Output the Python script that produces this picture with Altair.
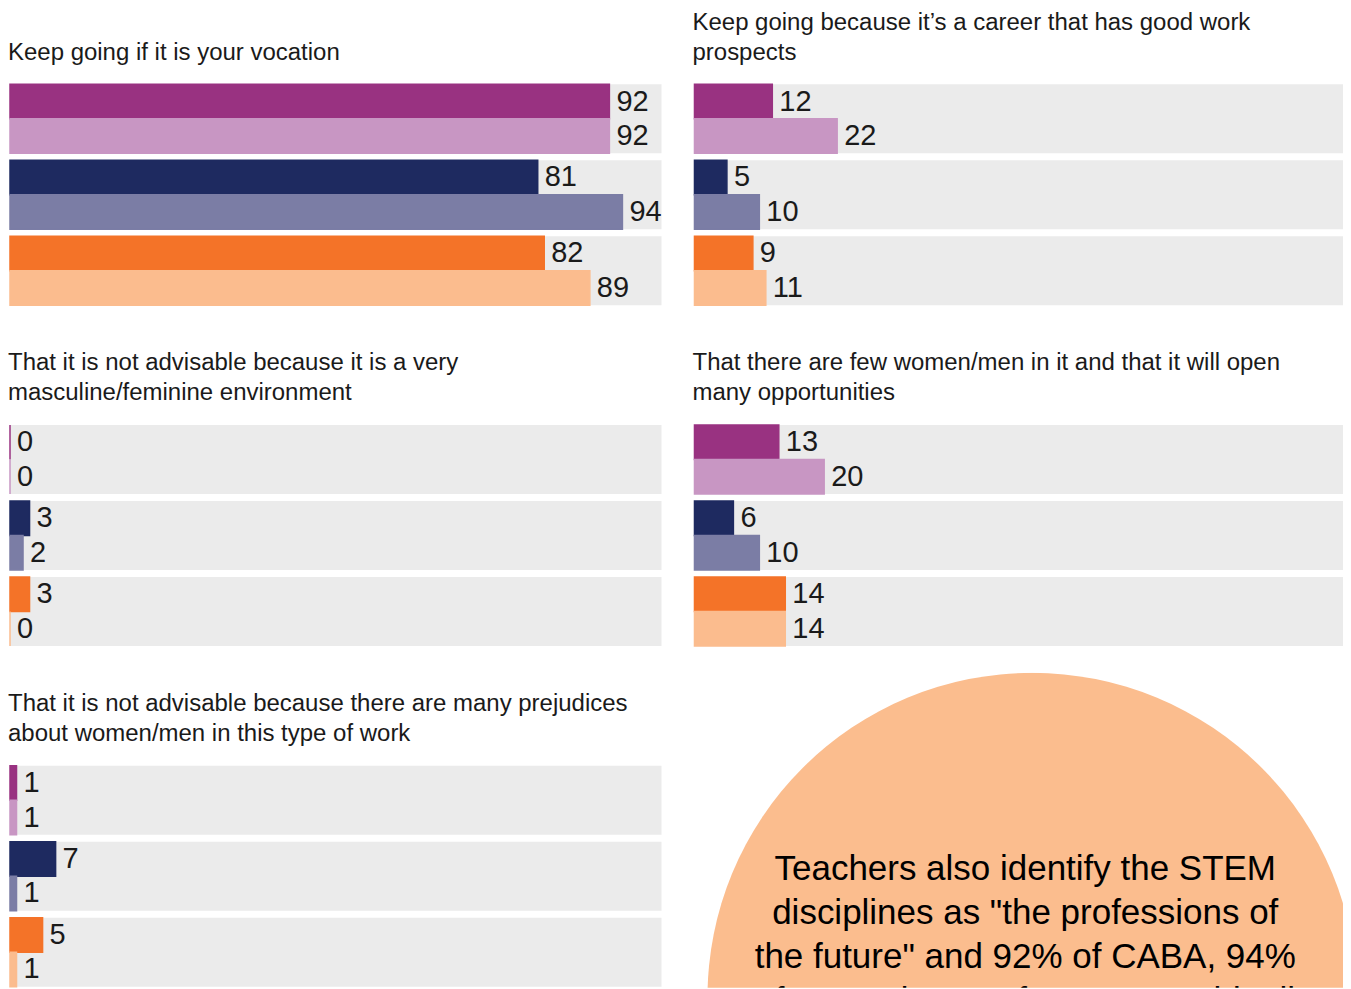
import altair as alt
import pandas as pd

# ---- data ----
regions = ["CABA", "SP", "CDMX"]
series = ["Series 1", "Series 2"]
keys = ["CABA-1", "CABA-2", "SP-1", "SP-2", "CDMX-1", "CDMX-2"]
colors = ["#993281", "#C896C3", "#1E2A60", "#7B7DA5", "#F47328", "#FBBC8E"]

title_vocation = ["", "Keep going if it is your vocation"]
title_prospects = ["Keep going because it\u2019s a career that has good work", "prospects"]
title_masculine = ["That it is not advisable because it is a very", "masculine/feminine environment"]
title_few = ["That there are few women/men in it and that it will open", "many opportunities"]
title_prejudices = ["That it is not advisable because there are many prejudices", "about women/men in this type of work"]

vocation = [92, 92, 81, 94, 82, 89]
prospects = [12, 22, 5, 10, 9, 11]
masculine = [0, 0, 3, 2, 3, 0]
few = [13, 20, 6, 10, 14, 14]
prejudices = [1, 1, 7, 1, 5, 1]
full_scale = 100

callout = [
    "Teachers also identify the STEM",
    "disciplines as \"the professions of",
    "the future\" and 92% of CABA, 94%",
    "of SP and 89% of CDMX would tell",
]

LABEL_FONT = "Liberation Sans, Arial, sans-serif"
TEXT_FONT = "Liberation Sans, Arial, sans-serif"


def panel(title, values, width, height):
    df = pd.DataFrame({
        "region": [r for r in regions for _ in series],
        "series": series * len(regions),
        "key": keys,
        "value": values,
    })
    bgdf = pd.DataFrame({"region": regions, "full": [full_scale] * len(regions)})
    xscale = alt.Scale(domain=[-0.307, 100], nice=False, zero=False)
    y = alt.Y("region:N", sort=regions, axis=None,
              scale=alt.Scale(domain=regions, paddingInner=0.092, paddingOuter=0))
    yoff = alt.YOffset("series:N", sort=series,
                       scale=alt.Scale(domain=series, paddingInner=0, paddingOuter=0))
    bg = alt.Chart(bgdf).mark_bar(color="#EBEBEB").encode(
        x=alt.X("full:Q", scale=xscale, axis=None, stack=None), y=y)
    base = alt.Chart(df)
    bars = base.mark_bar(strokeWidth=1.5).encode(
        x=alt.X("value:Q", scale=xscale, axis=None, stack=None),
        y=y, yOffset=yoff,
        color=alt.Color("key:N", scale=alt.Scale(domain=keys, range=colors), legend=None),
        stroke=alt.Stroke("key:N", scale=alt.Scale(domain=keys, range=colors), legend=None),
    )
    labels = base.mark_text(align="left", baseline="middle", dx=7, font=LABEL_FONT,
                            fontSize=29, color="#1a1a1a").encode(
        x=alt.X("value:Q", scale=xscale, axis=None, stack=None),
        y=y, yOffset=yoff, text="value:Q")
    return alt.layer(bg, bars, labels).properties(
        width=width, height=height,
        title=alt.TitleParams(text=title, anchor="start", fontSize=24, font=TEXT_FONT,
                              fontWeight="normal", color="#1a1a1a", lineHeight=30,
                              baseline="bottom", offset=-5),
    )


p1 = panel(title_vocation, vocation, 654, 221)
p2 = panel(title_prospects, prospects, 651, 221)
p3 = panel(title_masculine, masculine, 654, 221)
p4 = panel(title_few, few, 651, 221)
p5 = panel(title_prejudices, prejudices, 654, 221)

cdf = pd.DataFrame({"text": [callout]})
circ_base = alt.Chart(cdf)
circle = circ_base.mark_circle(color="#FBBD8E", opacity=1, size=650 * 650, clip=True).encode(
    x=alt.value(340), y=alt.value(325))
ctext = circ_base.mark_text(align="center", baseline="middle", font=TEXT_FONT, fontSize=35,
                            lineHeight=44, color="#000000", clip=True).encode(
    x=alt.value(333), y=alt.value(196), text="text")
circ_panel = alt.layer(circle, ctext).properties(width=651, height=315)

S = 45
left = alt.vconcat(p1, p3, p5, spacing=S)
right = alt.vconcat(alt.vconcat(p2, p4, spacing=S), circ_panel, spacing=26)

chart = alt.hconcat(left, right, spacing=30).properties(
    padding={"top": 2, "left": 0, "right": 0, "bottom": 0}, background="white"
).configure_view(stroke=None)

chart.save("out.html", embed_options={"renderer": "svg", "actions": False})
